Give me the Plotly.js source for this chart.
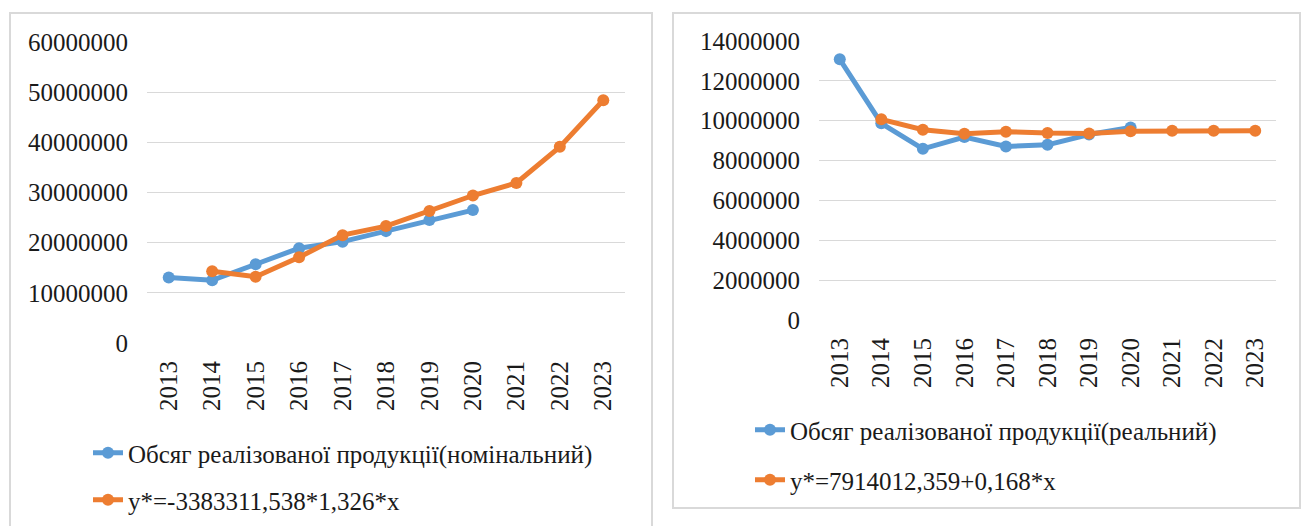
<!DOCTYPE html>
<html><head><meta charset="utf-8">
<script src="https://cdn.plot.ly/plotly-3.0.1.min.js"></script>
<style>html,body{margin:0;padding:0;background:#fff;overflow:hidden;font-family:'Liberation Serif',serif;} #chart{width:1303px;height:526px;}</style>
</head><body><div id="chart"></div>
<script>
const years = ['2013','2014','2015','2016','2017','2018','2019','2020','2021','2022','2023'];
const actualYears = ['2013','2014','2015','2016','2017','2018','2019','2020'];
const nominalActual = [13070000, 12500000, 15700000, 18900000, 20200000, 22300000, 24500000, 26500000];
const nominalModel = [null, 14300000, 13200000, 17100000, 21500000, 23300000, 26300000, 29400000, 31900000, 39100000, 48400000];
const realActual = [13080000, 9870000, 8590000, 9180000, 8710000, 8790000, 9310000, 9660000];
const realModel = [null, 10070000, 9550000, 9350000, 9450000, 9380000, 9360000, 9470000, 9500000, 9500000, 9500000];
const names = {
  nomA: 'Обсяг реалізованої продукції(номінальний)',
  nomM: 'y*=-3383311,538*1,326*x',
  realA: 'Обсяг реалізованої продукції(реальний)',
  realM: 'y*=7914012,359+0,168*x'
};

const W = 1303, H = 526;
const BLUE = '#5B9BD5', ORANGE = '#ED7D31';
const FONT = 'Liberation Serif';
const FS = 25;
const TXT = '#1a1a1a';
const px = v => v / W;
const py = v => 1 - v / H;

function tr(x, y, name, color, xa, ya, leg) {
  return {x: x, y: y, name: name, type: 'scatter', mode: 'lines+markers',
    line: {color: color, width: 5}, marker: {color: color, size: 12},
    xaxis: xa, yaxis: ya, legend: leg, connectgaps: false, cliponaxis: false};
}

const data = [
  tr(actualYears, nominalActual, names.nomA, BLUE, 'x', 'y', 'legend'),
  tr(years, nominalModel, names.nomM, ORANGE, 'x', 'y', 'legend2'),
  tr(actualYears, realActual, names.realA, BLUE, 'x2', 'y2', 'legend3'),
  tr(years, realModel, names.realM, ORANGE, 'x2', 'y2', 'legend4')
];

const xaxisBase = {type: 'category', categoryorder: 'array', categoryarray: years,
  range: [-0.5, 10.5], tickangle: -90, ticks: '', showgrid: false, zeroline: false,
  showline: false, ticklabelstandoff: 12, tickfont: {family: FONT, size: FS, color: TXT}};
const yaxisBase = {tickformat: 'd', ticks: '', showline: false, zeroline: false,
  gridcolor: '#d9d9d9', gridwidth: 1.3, ticklabelstandoff: 18,
  tickfont: {family: FONT, size: FS, color: TXT}};

function leg(x, y) {
  return {x: x, y: y, xanchor: 'left', yanchor: 'middle', bgcolor: 'rgba(0,0,0,0)',
    borderwidth: 0, font: {family: FONT, size: FS, color: TXT}};
}

const layout = {
  width: W, height: H, margin: {l: 0, r: 0, t: 0, b: 0},
  paper_bgcolor: '#fff', plot_bgcolor: 'rgba(0,0,0,0)',
  font: {family: FONT, size: FS, color: TXT},
  showlegend: true,
  xaxis: Object.assign({}, xaxisBase, {domain: [px(147), px(625)], anchor: 'y'}),
  yaxis: Object.assign({}, yaxisBase, {domain: [py(343), py(42)], range: [0, 60000000], dtick: 10000000, anchor: 'x'}),
  xaxis2: Object.assign({}, xaxisBase, {domain: [px(819), px(1276)], anchor: 'y2'}),
  yaxis2: Object.assign({}, yaxisBase, {domain: [py(320), py(41)], range: [0, 14000000], dtick: 2000000, anchor: 'x2'}),
  legend: leg(px(88), py(453)),
  legend2: leg(px(88), py(500)),
  legend3: leg(px(750), py(430)),
  legend4: leg(px(750), py(480)),
  shapes: [
    {type: 'rect', xref: 'paper', yref: 'paper', x0: px(10), x1: px(652), y0: py(540), y1: py(13),
     line: {color: '#d9d9d9', width: 2}, fillcolor: 'rgba(0,0,0,0)', layer: 'below'},
    {type: 'rect', xref: 'paper', yref: 'paper', x0: px(673), x1: px(1300), y0: py(508), y1: py(13),
     line: {color: '#d9d9d9', width: 2}, fillcolor: 'rgba(0,0,0,0)', layer: 'below'}
  ]
};

function draw() { Plotly.newPlot('chart', data, layout, {displayModeBar: false}); }
if (document.fonts && document.fonts.load) {
  document.fonts.load(FS + 'px "' + FONT + '"', 'Обсяг 2013').then(draw, draw);
} else { draw(); }
</script></body></html>
